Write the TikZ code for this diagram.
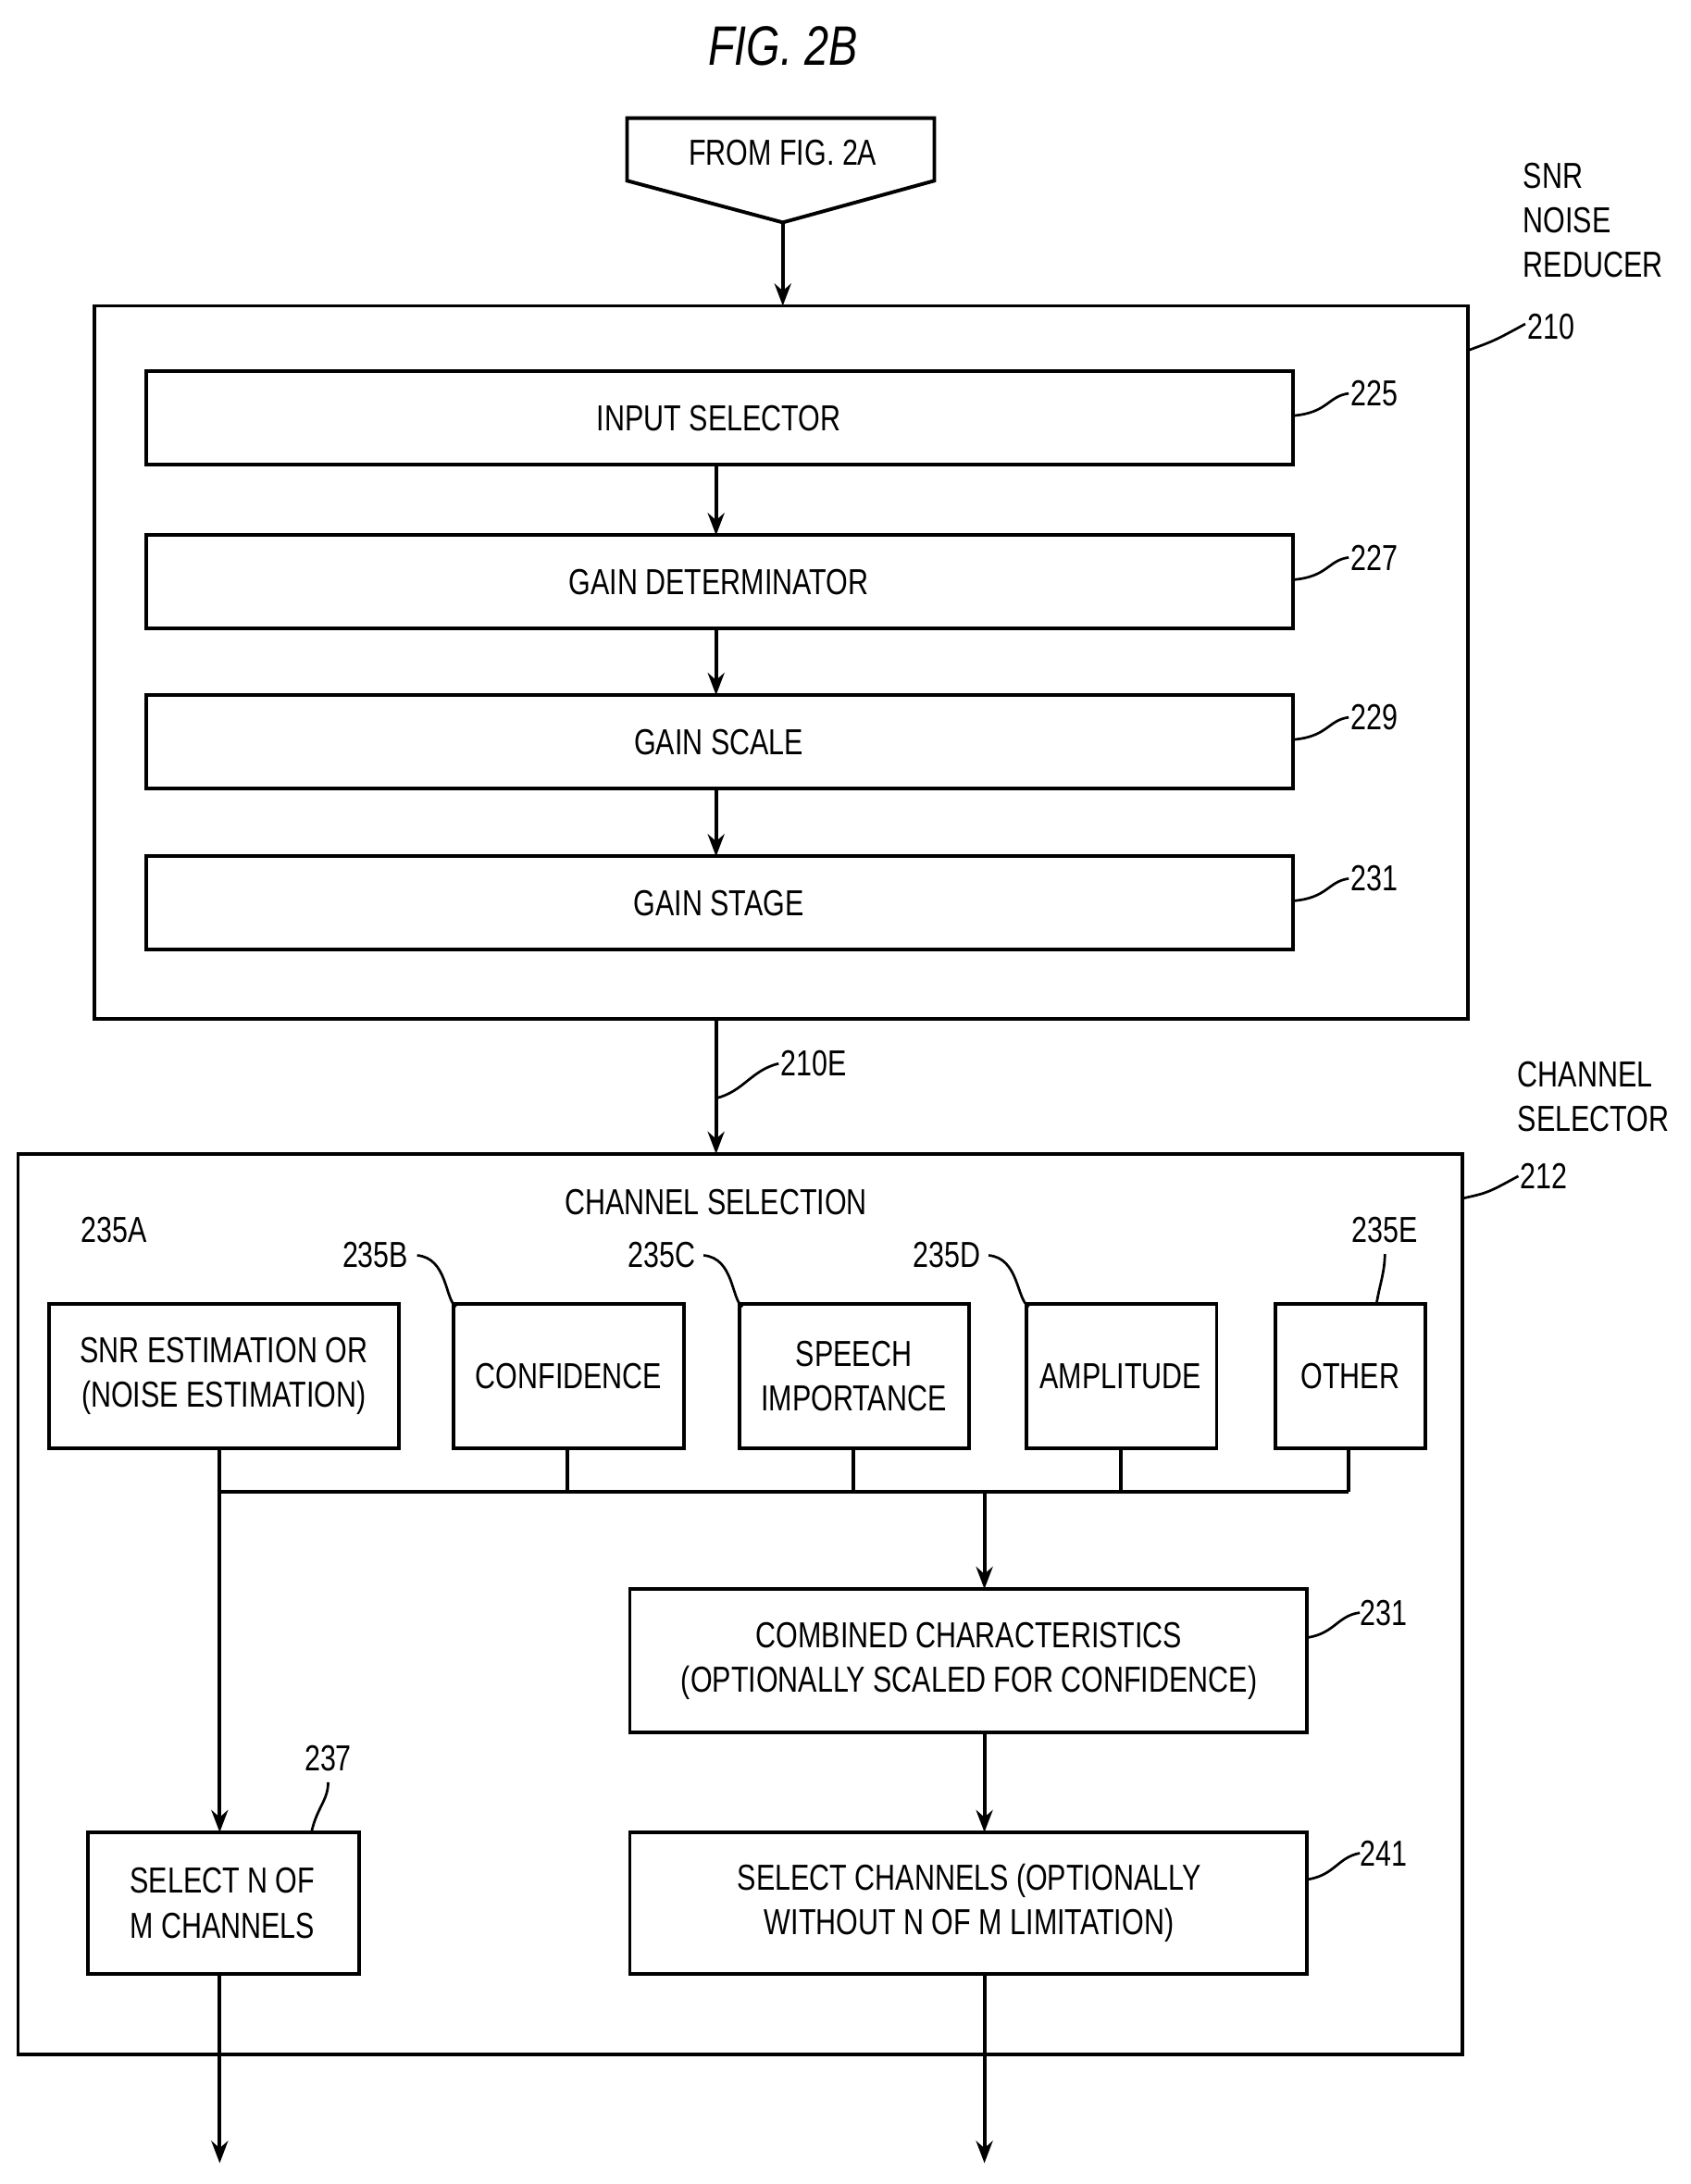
\documentclass[tikz,border=0pt]{standalone}
\usepackage{fontspec}
\setmainfont[FakeStretch=0.78]{Liberation Sans}
\usetikzlibrary{arrows.meta}
\begin{document}
\begin{tikzpicture}[x=1pt,y=-1pt,
  bx/.style={draw,line width=2.6pt},
  lbl/.style={font=\fontsize{26}{32}\selectfont,align=center},
  ref/.style={font=\fontsize{26}{30}\selectfont,anchor=west},
  ar/.style={line width=2.6pt,-{Stealth[length=16pt,width=12pt]}},
  ln/.style={line width=2.6pt},
  ld/.style={line width=1.8pt}]
\useasboundingbox (0,0) rectangle (1216,1571);
\node[font=\fontsize{40}{44}\selectfont\itshape] (title) at (563,33) {FIG. 2B};
\draw[bx] (451,85) -- (672,85) -- (672,130) -- (563,160) -- (451,130) -- cycle;
\node[lbl] (from) at (563,110) {FROM FIG. 2A};
\coordinate (fromtip) at (563,160);
\draw[bx] (68,220) rectangle (1056,733);
\coordinate (snrtop) at (563,220);
\draw[ar] (fromtip) -- (snrtop);
\node[lbl,align=left,anchor=north west] (snrl) at (1092,114) {SNR\\NOISE\\REDUCER};
\node[ref] (r210) at (1095,235) {210};
\draw[ld] (1056,252) .. controls (1075,245) .. (1097,233);
\foreach \n/\t/\y/\r in {in/INPUT SELECTOR/267/225, gd/GAIN DETERMINATOR/385/227, gs/GAIN SCALE/500/229, gst/GAIN STAGE/616/231}{
  \draw[bx] (105,\y) rectangle (930,\y+67);
  \node[lbl] (\n) at (517,\y+34) {\t};
  \node[ref] (r\n) at (968,\y+16) {\r};
  \draw[ld] (930,\y+32) .. controls (955,\y+30) and (955,\y+18) .. (970,\y+16);
}
\draw[ar] (515,334) -- (515,385);
\draw[ar] (515,452) -- (515,500);
\draw[ar] (515,567) -- (515,616);
\draw[bx] (13,830) rectangle (1052,1478);
\draw[ar] (515,733) -- (515,830);
\node[ref] (r210e) at (558,765) {210E};
\draw[ld] (515,790) .. controls (535,785) and (540,770) .. (560,765);
\node[lbl,align=left,anchor=north west] (csl) at (1088,760) {CHANNEL\\SELECTOR};
\node[ref] (r212) at (1090,846) {212};
\draw[ld] (1052,862) .. controls (1070,858) .. (1092,846);
\node[lbl] (cs) at (515,865) {CHANNEL SELECTION};
\draw[bx] (35,938) rectangle (287,1042); \node[lbl] (a) at (161,990) {SNR ESTIMATION OR\\(NOISE ESTIMATION)};
\draw[bx] (326,938) rectangle (492,1042); \node[lbl] (b) at (409,990) {CONFIDENCE};
\draw[bx] (532,938) rectangle (697,1042); \node[lbl] (c) at (614,990) {SPEECH\\IMPORTANCE};
\draw[bx] (738,938) rectangle (875,1042); \node[lbl] (d) at (806,990) {AMPLITUDE};
\draw[bx] (917,938) rectangle (1025,1042); \node[lbl] (e) at (971,990) {OTHER};
\node[lbl] (ra) at (82,885) {235A};
\node[lbl] (rb) at (270,903) {235B};
\node[lbl] (rc) at (476,903) {235C};
\node[lbl] (rd) at (681,903) {235D};
\node[lbl] (re) at (996,885) {235E};
\draw[ld] (300,903) .. controls (322,905) and (320,935) .. (328,940);
\draw[ld] (506,903) .. controls (528,905) and (526,935) .. (534,940);
\draw[ld] (711,903) .. controls (733,905) and (731,935) .. (740,940);
\draw[ld] (990,938) .. controls (992,925) and (996,915) .. (996,902);
\draw[ln] (158,1073) -- (970,1073);
\draw[ln] (408,1042) -- (408,1073);
\draw[ln] (614,1042) -- (614,1073);
\draw[ln] (806,1042) -- (806,1073);
\draw[ln] (970,1042) -- (970,1073);
\draw[bx] (453,1143) rectangle (940,1246); \node[lbl] (comb) at (697,1195) {COMBINED CHARACTERISTICS\\(OPTIONALLY SCALED FOR CONFIDENCE)};
\draw[bx] (453,1318) rectangle (940,1420); \node[lbl] (selc) at (697,1369) {SELECT CHANNELS (OPTIONALLY\\WITHOUT N OF M LIMITATION)};
\draw[bx] (63,1318) rectangle (258,1420); \node[lbl] (seln) at (160,1369) {SELECT N OF\\M CHANNELS};
\draw[ar] (158,1042) -- (158,1318);
\draw[ar] (708,1073) -- (708,1143);
\draw[ar] (708,1246) -- (708,1318);
\draw[ar] (158,1420) -- (158,1556);
\draw[ar] (708,1420) -- (708,1556);
\node[ref] (r231b) at (975,1160) {231};
\draw[ld] (940,1178) .. controls (960,1175) and (962,1162) .. (978,1160);
\node[ref] (r241) at (975,1333) {241};
\draw[ld] (940,1352) .. controls (960,1349) and (962,1336) .. (978,1333);
\node[lbl] (r237) at (236,1265) {237};
\draw[ld] (224,1318) .. controls (228,1300) and (236,1295) .. (236,1282);
\end{tikzpicture}
\end{document}
